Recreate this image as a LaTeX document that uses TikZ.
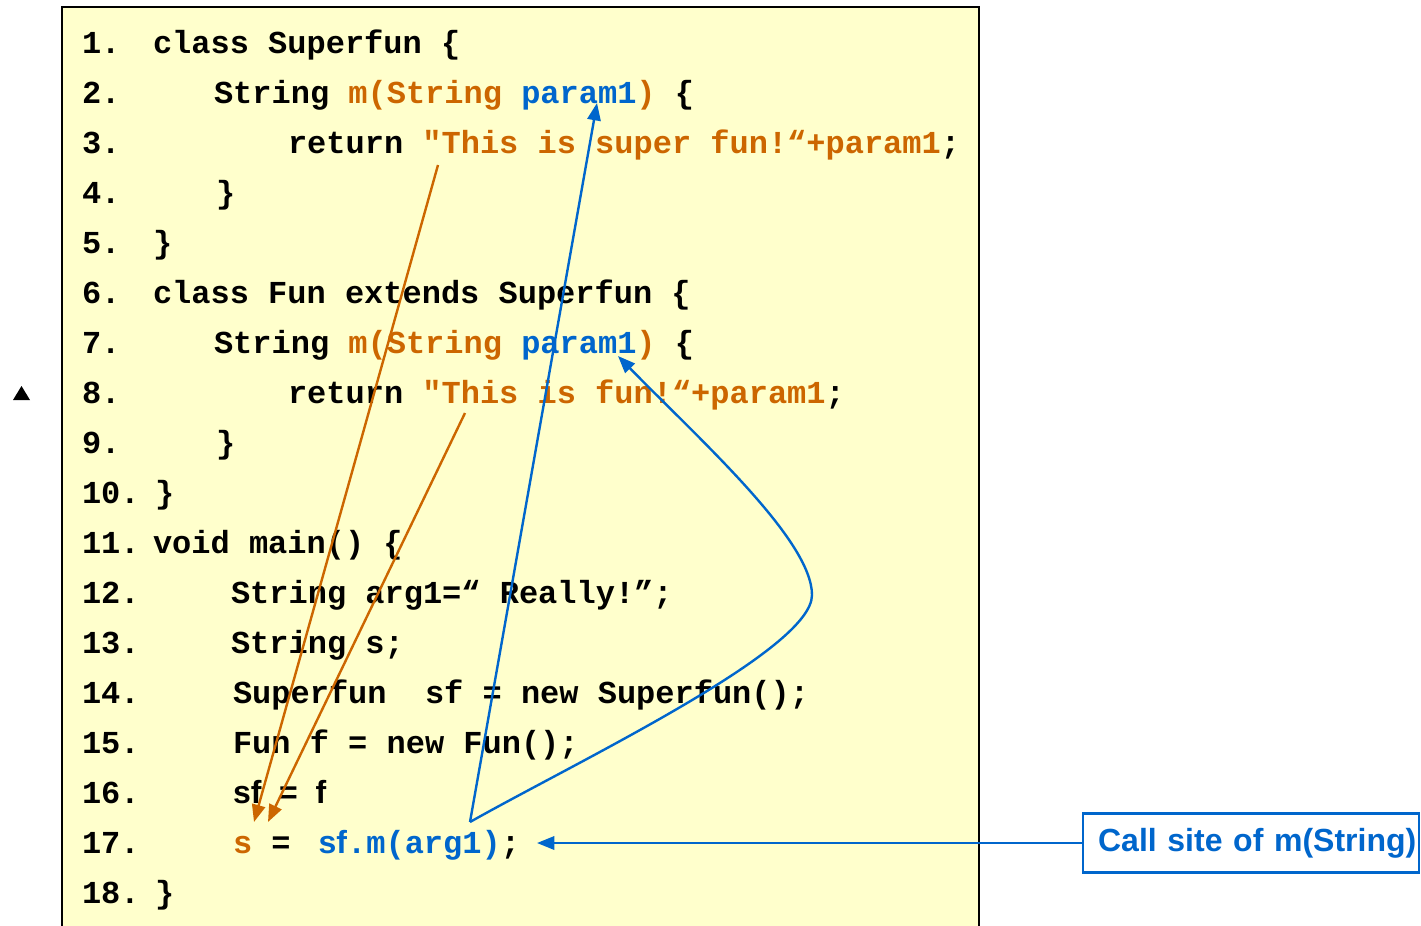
\documentclass[tikz,border=0pt]{standalone}
\usepackage{fontspec}
\setmainfont{Liberation Sans}
\setsansfont{Liberation Sans}
\setmonofont{Liberation Mono}
\usetikzlibrary{arrows.meta,positioning}
\definecolor{codebg}{HTML}{FFFFCC}
\definecolor{codeorange}{HTML}{CC6600}
\definecolor{codeblue}{HTML}{0066CC}
\newcommand{\kw}[1]{\textcolor{codeorange}{#1}}
\newcommand{\pv}[1]{\textcolor{codeblue}{#1}}

\begin{document}
\begin{tikzpicture}[
  x=0.75pt, y=-0.75pt,
  every node/.style={inner sep=0pt, outer sep=0pt},
  lineno/.style={anchor=base west, font=\ttfamily\bfseries\fontsize{24}{24}\selectfont},
  code/.style={anchor=base west, font=\ttfamily\bfseries\fontsize{24}{24}\selectfont},
  flow/.style={-{Triangle[length=13pt,width=10pt]}, line width=1.8pt},
  callnote/.style={draw=codeblue, line width=1.8pt, fill=white, text=codeblue, font=\sffamily\bfseries\fontsize{24}{24}\selectfont, text width=248pt, align=right, inner xsep=2pt, minimum height=44pt}
]
\useasboundingbox (0,0) rectangle (1421,925);

% listing background
\draw[line width=1.8pt, fill=codebg] (62,7) rectangle (979,940);
\fill (13,400) -- (30,400) -- (21.5,386) -- cycle;

% line numbers
\foreach \i in {1,...,18}
  \node[lineno] (n\i) at (82, {53+50*(\i-1)}) {\i.};

% code
\node[code] (c1) at (153,53) {class Superfun \{};
\node[code] (c2) at (214,103) {String \kw{m(String }\pv{param1}\kw{)} \{};
\node[code] (c3) at (288,153) {return \kw{"This is super fun!“+param1};};
\node[code] (c4) at (216,203) {\}};
\node[code] (c5) at (153,253) {\}};
\node[code] (c6) at (153,303) {class Fun extends Superfun \{};
\node[code] (c7) at (214,353) {String \kw{m(String }\pv{param1}\kw{)} \{};
\node[code] (c8) at (288,403) {return \kw{"This is fun!“+param1};};
\node[code] (c9) at (216,453) {\}};
\node[code] (c10) at (155,503) {\}};
\node[code] (c11) at (153,553) {void main() \{};
\node[code] (c12) at (231,603) {String arg1=“ Really!”;};
\node[code] (c13) at (231,653) {String s;};
\node[code] (c14) at (233,703) {Superfun\ \ sf = new Superfun();};
\node[code] (c15) at (233,753) {Fun f = new Fun();};
\node[code, font=\sffamily\bfseries\fontsize{24}{24}\selectfont] (c16) at (233,803) {sf\ \ =\ \ f};
\node[code] (c17) at (233,853) {\kw{s} =\ {\sffamily\ \pv{sf}}\pv{.m(arg1)};};
\node[code] (c18) at (155,903) {\}};

\node[callnote] (note) at (1251,843) {Call site of m(String)};

% arrow ends
\coordinate (ret3) at (438,165);
\coordinate (ret8) at (465,413);
\coordinate (sdst1) at (254,822);
\coordinate (sdst2) at (268,822);
\coordinate (call) at (470,822);
\coordinate (par2) at (597,103);
\coordinate (par7) at (618,356);
\coordinate (bend) at (812,595);
\coordinate (callpt) at (537,843);

\draw[flow, codeorange] (ret3) -- (sdst1);
\draw[flow, codeorange] (ret8) -- (sdst2);
\draw[flow, codeblue] (call) -- (par2);
\draw[flow, codeblue] (call) .. controls (580,760) and (812,650) .. (bend)
  .. controls (812,540) and (700,440) .. (par7);
\draw[flow, codeblue] (note) -- (callpt);
\end{tikzpicture}
\end{document}
